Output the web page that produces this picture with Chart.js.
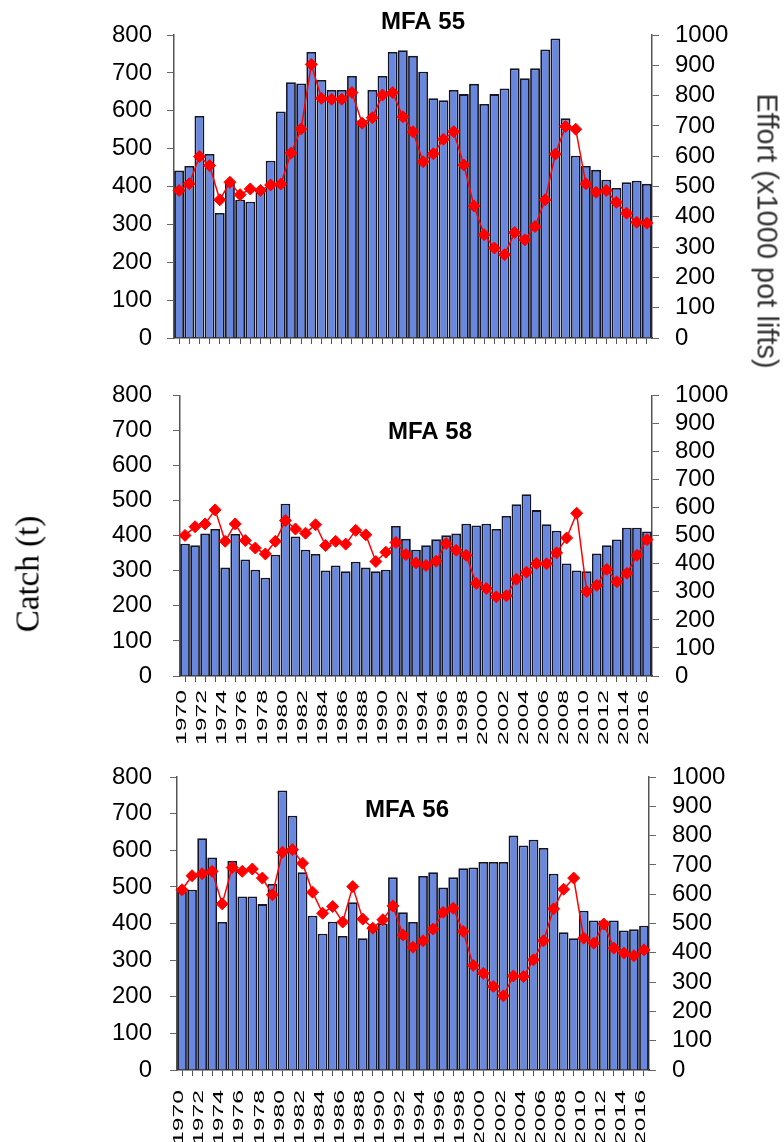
<!DOCTYPE html>
<html>
<head>
<meta charset="utf-8">
<script src="https://cdn.jsdelivr.net/npm/chart.js@4.4.1/dist/chart.umd.min.js"></script>
<style>
html,body{margin:0;padding:0;background:#fff;width:784px;height:1142px;overflow:hidden;position:relative}
canvas{position:absolute;left:0}
.lab{position:absolute;white-space:nowrap;transform-origin:center center}
#catchLab{left:28px;top:574px;font:33px "Liberation Serif","Times New Roman",serif;color:#000;transform:translate(-50%,-50%) rotate(-90deg)}
#effortLab{left:767px;top:231px;font:29px "Liberation Sans",Arial,sans-serif;color:#333;transform:translate(-50%,-50%) rotate(90deg)}
</style>
</head>
<body>
<canvas id="c1" width="784" height="380" style="top:0px;width:784px;height:380px"></canvas>
<canvas id="c2" width="784" height="402" style="top:360px;width:784px;height:402px"></canvas>
<canvas id="c3" width="784" height="402" style="top:740px;width:784px;height:402px"></canvas>
<div class="lab" id="catchLab">Catch (t)</div>
<div class="lab" id="effortLab">Effort (x1000 pot lifts)</div>
<script>
const years = ["1970","1971","1972","1973","1974","1975","1976","1977","1978","1979",
"1980","1981","1982","1983","1984","1985","1986","1987","1988","1989",
"1990","1991","1992","1993","1994","1995","1996","1997","1998","1999",
"2000","2001","2002","2003","2004","2005","2006","2007","2008","2009",
"2010","2011","2012","2013","2014","2015","2016"];

const catchTicks = [0,100,200,300,400,500,600,700,800];
const effortTicks = [0,100,200,300,400,500,600,700,800,900,1000];

// MFA 55
const catch55 = [442,454,586,486,330,410,365,360,395,468,
598,675,672,755,681,655,655,692,575,655,
692,755,760,745,703,633,628,655,644,671,
618,644,659,712,686,712,762,791,580,481,
454,444,418,396,411,415,407];
const effort55 = [487,509,599,569,456,514,473,492,487,505,
508,610,690,903,791,788,788,810,709,727,
802,810,730,681,582,608,656,681,571,436,
341,297,275,348,324,368,456,607,698,689,
509,481,487,448,412,382,379];

// MFA 58
const catch58 = [377,373,406,419,309,405,332,303,280,346,
491,398,360,348,301,315,299,326,309,299,
303,428,391,360,373,390,401,406,434,429,
434,419,456,490,518,473,433,414,321,301,
299,349,373,389,423,423,412];
const effort58 = [501,532,542,592,480,542,483,456,435,480,
554,524,509,539,465,480,470,519,503,408,
441,476,433,403,394,409,472,448,430,330,
312,282,286,345,370,401,400,439,492,580,
301,323,380,336,366,430,486];

// MFA 56
const catch56 = [487,492,633,580,404,571,474,474,453,508,
763,694,540,421,372,405,366,458,360,387,
400,526,431,404,530,540,498,526,551,553,
568,568,568,640,613,629,606,536,376,360,
435,408,408,408,381,384,394];
const effort56 = [615,663,670,678,567,691,678,686,655,598,
743,752,706,607,535,558,505,626,515,484,
513,560,461,419,441,481,538,552,473,357,
330,285,253,321,319,376,441,550,617,655,
450,433,498,416,399,390,410];

const FONT = '"Liberation Sans", Arial, sans-serif';

const overlay = {
  id: 'overlay',
  afterDraw(chart, args, o) {
    const ctx = chart.ctx;
    ctx.save();
    ctx.fillStyle = '#000';
    ctx.font = 'bold 24px ' + FONT;
    ctx.textAlign = 'center';
    ctx.textBaseline = 'middle';
    ctx.fillText(o.title, o.tx, o.ty);
    if (o.labels) {
      const xs = chart.scales.x;
      ctx.font = '15px ' + FONT;
      ctx.textAlign = 'right';
      ctx.textBaseline = 'middle';
      years.forEach((lab, i) => {
        if (i % 2) return;
        const px = xs.getPixelForTick(i) + o.dx;
        ctx.save();
        ctx.translate(px, xs.top + o.ly);
        ctx.rotate(-Math.PI / 2);
        ctx.scale(o.stretch, 1);
        ctx.fillText(lab, 0, 0);
        ctx.restore();
      });
    }
    ctx.restore();
  }
};

function makeChart(id, catchData, effortData, cfg) {
  const W = 784;
  return new Chart(document.getElementById(id), {
    type: 'bar',
    data: {
      labels: years,
      datasets: [
        {
          type: 'line',
          data: effortData,
          yAxisID: 'y2',
          order: 0,
          borderColor: '#ff0000',
          borderWidth: 1.5,
          pointStyle: 'rectRot',
          pointRadius: 6,
          pointBackgroundColor: '#ff0000',
          pointBorderColor: '#ff0000',
          pointBorderWidth: 1,
          tension: 0
        },
        {
          type: 'bar',
          data: catchData,
          yAxisID: 'y',
          order: 1,
          backgroundColor: '#6888e0',
          borderColor: '#151525',
          borderWidth: 1.8,
          barPercentage: 0.97,
          categoryPercentage: 1.0
        }
      ]
    },
    options: {
      responsive: false,
      animation: false,
      devicePixelRatio: 1,
      layout: { padding: { top: cfg.top, left: 0, right: 0, bottom: 0 } },
      plugins: {
        legend: { display: false },
        tooltip: { enabled: false },
        title: { display: false },
        overlay: cfg.overlay
      },
      scales: {
        x: {
          type: 'category',
          offset: true,
          grid: { display: true, drawOnChartArea: false, drawTicks: true, tickLength: 6, offset: false, color: '#555', lineWidth: 1 },
          border: { display: true, color: '#333', width: 1.5 },
          ticks: { display: false },
          afterFit: s => { s.height = cfg.xH; }
        },
        y: {
          position: 'left',
          min: 0, max: 800,
          afterBuildTicks: s => { s.ticks = catchTicks.map(v => ({ value: v })); },
          ticks: { font: { size: 24, family: FONT }, color: '#000', padding: cfg.L - 152 - 7, autoSkip: false, callback: v => String(v) },
          grid: { drawOnChartArea: false, drawTicks: true, tickLength: 7, color: '#666' },
          border: { display: true, color: '#555', width: 1.5 },
          afterFit: s => { s.width = cfg.L; }
        },
        y2: {
          position: 'right',
          min: 0, max: 1000,
          afterBuildTicks: s => { s.ticks = effortTicks.map(v => ({ value: v })); },
          ticks: { font: { size: 24, family: FONT }, color: '#000', padding: 16, autoSkip: false, callback: v => String(v) },
          grid: { drawOnChartArea: false, drawTicks: true, tickLength: 7, color: '#666' },
          border: { display: true, color: '#555', width: 1.5 },
          afterFit: s => { s.width = W - cfg.R; }
        }
      }
    },
    plugins: [overlay]
  });
}

makeChart('c1', catch55, effort55, {
  top: 35, xH: 42, L: 174, R: 652,
  overlay: { title: 'MFA 55', tx: 423, ty: 22, labels: false }
});
makeChart('c2', catch58, effort58, {
  top: 33, xH: 86, L: 180, R: 652,
  overlay: { title: 'MFA 58', tx: 430, ty: 72, labels: true, dx: -3, ly: 14, stretch: 1.65 }
});
makeChart('c3', catch56, effort56, {
  top: 37, xH: 72, L: 177, R: 649,
  overlay: { title: 'MFA 56', tx: 407, ty: 70, labels: true, dx: -3, ly: 20, stretch: 1.65 }
});
</script>
</body>
</html>
